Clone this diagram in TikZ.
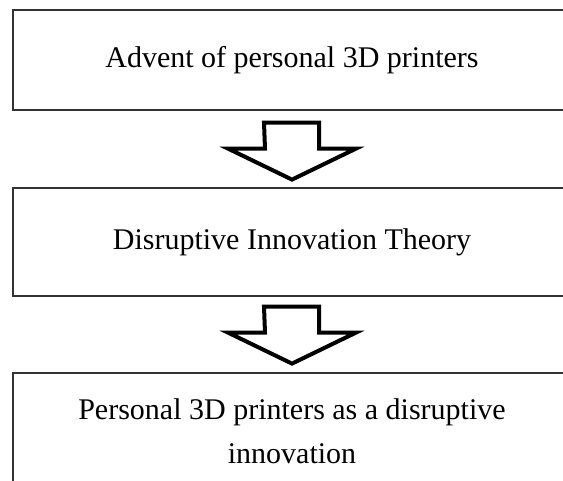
\documentclass[tikz,border=0pt]{standalone}
\usepackage{fontspec}
\setmainfont{Liberation Serif}

\tikzset{
  stage/.style={draw=black!80, line width=1.2pt, minimum width=558pt, inner sep=0pt},
  caption/.style={font=\fontsize{30}{43}\selectfont, anchor=base, inner sep=0pt},
  flow/.style={draw=black, line width=4pt, fill=white, miter limit=10}
}

\begin{document}
\begin{tikzpicture}[x=1pt,y=-1pt]
    \useasboundingbox (0,0) rectangle (563,481);
    % the three stages
    \node[stage, minimum height=100pt] (s1) at (292,60) {};
    \node[stage, minimum height=108pt] (s2) at (292,242) {};
    \node[stage, minimum height=140pt] (s3) at (292,443) {};
    \node[caption] (t1) at (292,68) {Advent of personal 3D printers};
    \node[caption] (t2) at (292,250) {Disruptive Innovation Theory};
    \node[caption] (t3) at (292,420) {Personal 3D printers as a disruptive};
    \node[caption] (t3b) at (292,464) {innovation};
    % block arrows between the stages
    \draw[flow] (s1.south) ++(-28,12) -- ++(55,0) -- ++(0,26) -- ++(37,0)
        -- ++(-64,31) -- ++(-64,-31) -- ++(37,0) -- cycle;
    \draw[flow] (s2.south) ++(-28,10) -- ++(55,0) -- ++(0,26) -- ++(37,0)
        -- ++(-64,31) -- ++(-64,-31) -- ++(37,0) -- cycle;
\end{tikzpicture}
\end{document}
